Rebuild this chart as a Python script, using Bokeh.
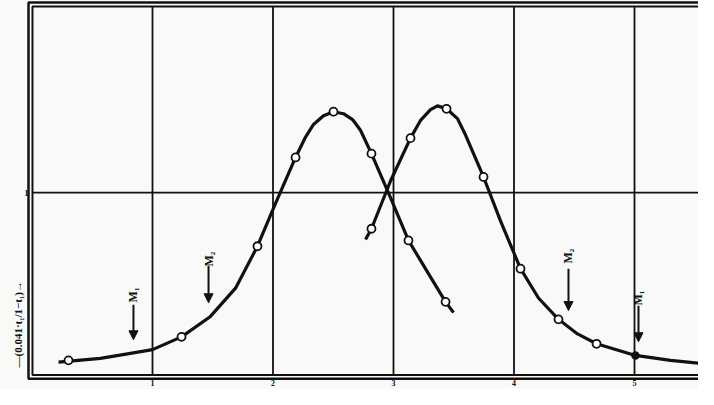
import numpy as np
from bokeh.plotting import figure
from bokeh.models import Range1d, Arrow, NormalHead
from bokeh.core.properties import value
from bokeh.embed import file_html
from bokeh.resources import INLINE

# ---- data ----
# left curve (traced line) and its measured points
curve_a_x = [0.220, 0.568, 0.817, 1.000, 1.241, 1.481, 1.689, 1.871, 2.021, 2.187,
             2.270, 2.336, 2.419, 2.502, 2.585, 2.660, 2.726, 2.817, 2.975, 3.124,
             3.290, 3.432, 3.498]
curve_a_y = [0.070, 0.091, 0.118, 0.139, 0.209, 0.321, 0.476, 0.706, 0.941, 1.193,
             1.305, 1.374, 1.422, 1.444, 1.433, 1.401, 1.342, 1.214, 0.973, 0.738,
             0.556, 0.401, 0.342]
pts_a_x = [0.303, 1.241, 1.871, 2.187, 2.502, 2.817, 3.124, 3.432]
pts_a_y = [0.080, 0.209, 0.706, 1.193, 1.444, 1.214, 0.738, 0.401]

# right curve (traced line) and its measured points
curve_b_x = [2.768, 2.817, 2.975, 3.141, 3.224, 3.307, 3.365, 3.440, 3.531, 3.598,
             3.664, 3.747, 3.888, 4.054, 4.203, 4.369, 4.527, 4.685, 5.008, 5.299,
             5.622]
curve_b_y = [0.743, 0.802, 1.064, 1.299, 1.396, 1.455, 1.476, 1.460, 1.406, 1.316,
             1.214, 1.086, 0.845, 0.583, 0.422, 0.305, 0.225, 0.171, 0.107, 0.080,
             0.059]
pts_b_x = [2.817, 3.141, 3.440, 3.747, 4.054, 4.369, 4.685, 5.622]
pts_b_y = [0.802, 1.299, 1.460, 1.086, 0.583, 0.305, 0.171, 0.059]
dot_b_x = [5.008]
dot_b_y = [0.107]

# grid / tick values
x_ticks = [1, 2, 3, 4, 5]
x_tick_labels = ["1", "2", "3", "4", "5"]
y_ticks = [1]
y_tick_labels = ["1"]

# marker arrows (M1, M2)
mark_labels = ["M\u2081", "M\u2082", "M\u2082", "M\u2081"]
mark_x = [0.842, 1.465, 4.452, 5.033]
mark_label_y = [0.439, 0.636, 0.652, 0.422]
mark_arrow_top = [0.385, 0.599, 0.583, 0.380]
mark_arrow_tip = [0.193, 0.396, 0.353, 0.182]

y_label = "\u2014(0.041\u00b7t\u2081/1\u2212t\u2081)\u2192"

# ---- figure ----
XMIN, XMAX = -0.2614, 5.531
YMIN, YMAX = -0.0798, 2.054
p = figure(width=698, height=389, output_backend="svg", toolbar_location=None,
           x_range=Range1d(XMIN, XMAX), y_range=Range1d(YMIN, YMAX),
           min_border=0)
p.axis.visible = False
p.grid.visible = False
p.outline_line_color = None
p.background_fill_color = "#f9f9f7"
p.border_fill_color = "#f9f9f7"

INK = "#111111"
FONT = value("Liberation Serif")

# double frame
in_l, in_b, in_t = 0.004, 0.0, 2.021
out_l, out_b, out_t = -0.029, -0.021, 2.043
p.multi_line(xs=[[XMAX + 1, in_l, in_l, XMAX + 1]], ys=[[in_b, in_b, in_t, in_t]],
             line_color=INK, line_width=2)
p.multi_line(xs=[[XMAX + 1, out_l, out_l, XMAX + 1]], ys=[[out_b, out_b, out_t, out_t]],
             line_color=INK, line_width=2.5)

# grid lines
p.segment(x0=x_ticks, y0=[in_b] * len(x_ticks), x1=x_ticks, y1=[in_t] * len(x_ticks),
          line_color=INK, line_width=1.8)
p.segment(x0=[in_l] * len(y_ticks), y0=y_ticks, x1=[XMAX + 1] * len(y_ticks), y1=y_ticks,
          line_color=INK, line_width=1.8)

# tick labels
p.text(x=x_ticks, y=[-0.027] * len(x_ticks), text=x_tick_labels, text_font=FONT,
       text_font_size="8px", text_font_style="bold", text_align="center",
       text_baseline="top", text_color=INK)
p.text(x=[-0.046] * len(y_ticks), y=y_ticks, text=y_tick_labels, text_font=FONT,
       text_font_size="9px", text_font_style="bold", text_align="center",
       text_baseline="middle", text_color=INK)

# curves
p.line(curve_a_x, curve_a_y, line_color=INK, line_width=3.2, line_join="round")
p.line(curve_b_x, curve_b_y, line_color=INK, line_width=3.2, line_join="round")
p.scatter(pts_a_x, pts_a_y, size=8, fill_color="white", line_color=INK, line_width=1.8)
p.scatter(pts_b_x, pts_b_y, size=8, fill_color="white", line_color=INK, line_width=1.8)
p.scatter(dot_b_x, dot_b_y, size=7, fill_color=INK, line_color=INK, line_width=1.5)

# M markers
p.text(x=mark_x, y=mark_label_y, text=mark_labels, angle=np.pi / 2, text_font=FONT,
       text_font_size="12px", text_font_style="bold", text_align="center",
       text_baseline="middle", text_color=INK)
for xm, yt, yb in zip(mark_x, mark_arrow_top, mark_arrow_tip):
    p.add_layout(Arrow(end=NormalHead(size=9, fill_color=INK, line_color=INK),
                       x_start=xm, y_start=yt, x_end=xm, y_end=yb,
                       line_color=INK, line_width=2))

# y label (rotated)
p.text(x=[-0.120], y=[0.278], text=[y_label], angle=np.pi / 2, text_font=FONT,
       text_font_size="11px", text_font_style="bold", text_align="center",
       text_baseline="middle", text_color=INK)

open("out.html", "w").write(file_html(p, INLINE))
